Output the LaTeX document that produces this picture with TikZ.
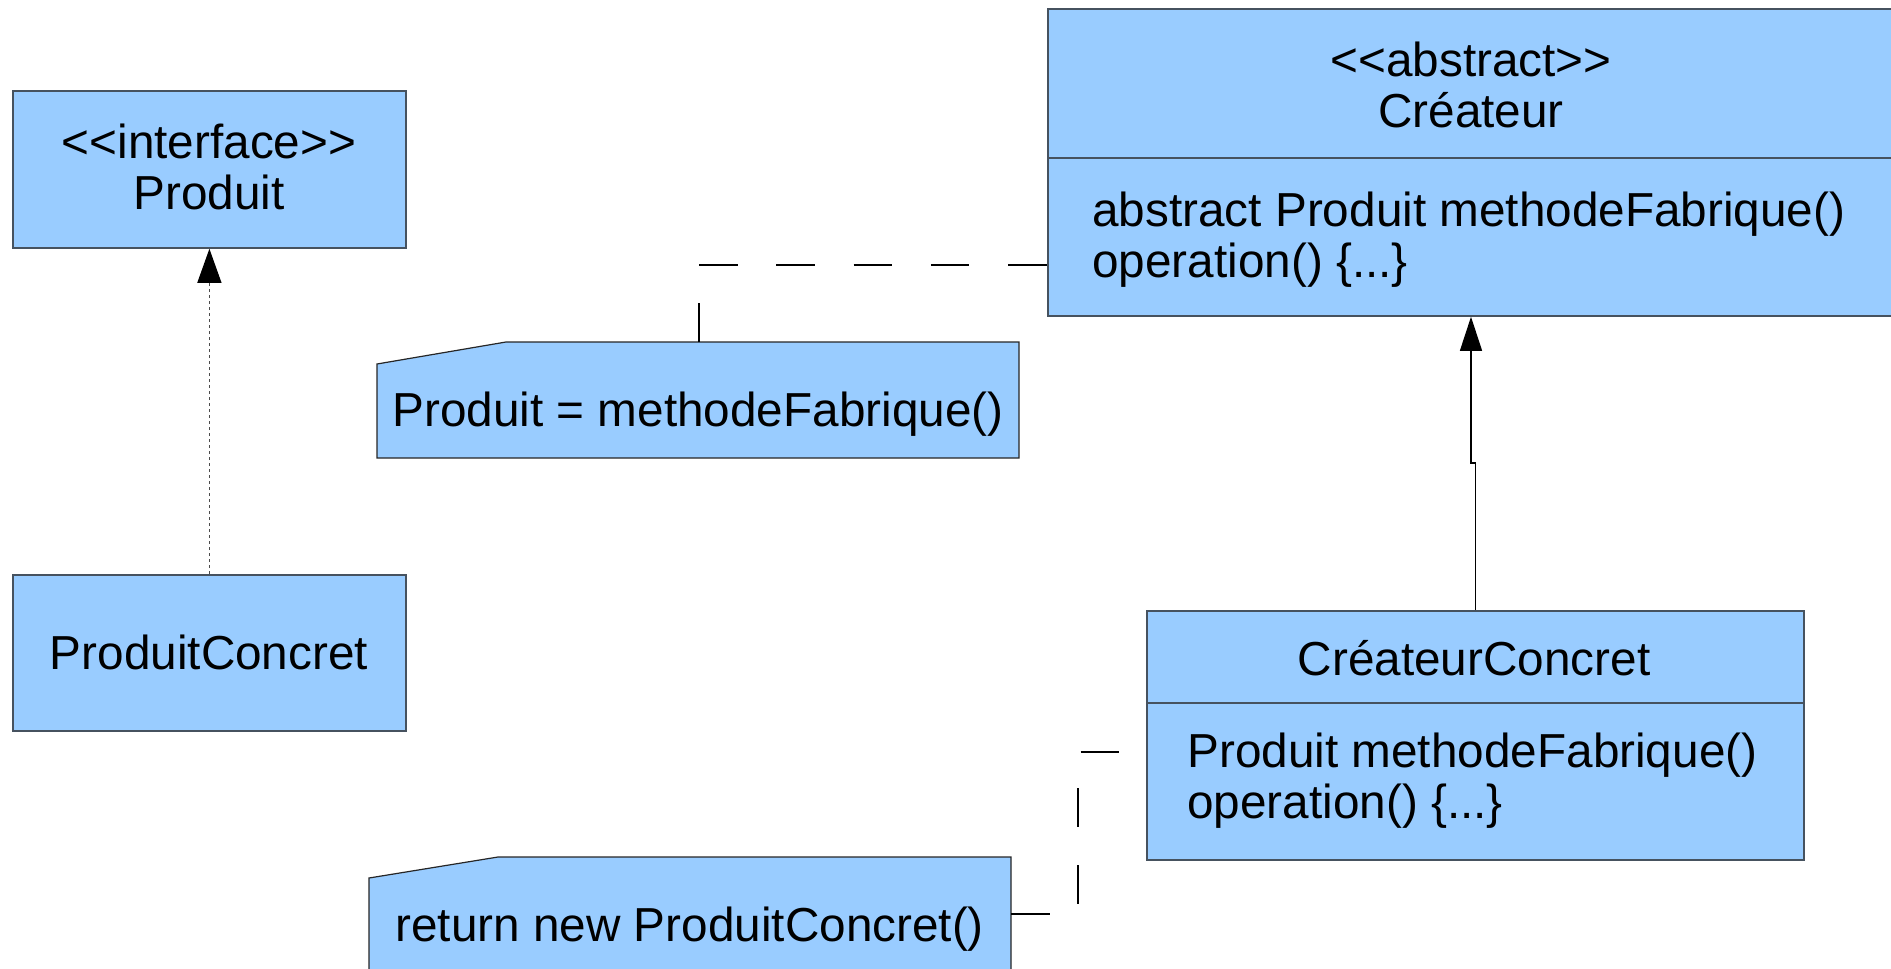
\documentclass[tikz,border=0pt]{standalone}
\usepackage{fontspec}
\setmainfont{Liberation Sans}[Ligatures=TeXOff]
\usetikzlibrary{arrows.meta}
\definecolor{boxfill}{HTML}{99CCFF}
\definecolor{boxline}{HTML}{46525F}
\begin{document}
\begin{tikzpicture}[x=0.5pt,y=-0.5pt,
  cls/.style={draw=boxline,fill=boxfill,line width=0.9pt,inner sep=0pt,anchor=north west},
  divider/.style={draw=boxline,line width=0.9pt},
  txt/.style={inner sep=0pt,font=\fontsize{23.85pt}{25.5pt}\selectfont},
  notebox/.style={draw=black!85,fill=boxfill,line width=0.6pt},
  conn/.style={line width=0.6pt,dash pattern=on 19.3pt off 19.3pt},
  inh/.style={line width=0.6pt,-{Triangle[width=11pt,length=17pt]}},
  real/.style={draw=black!70,line width=0.6pt,dash pattern=on 1.5pt off 1.5pt,
    -{Triangle[width=12pt,length=17pt,color=black]}}]
\useasboundingbox (0,0) rectangle (1891,969);

% classes
\node[cls,minimum width=196.5pt,minimum height=78.5pt] (p) at (12,90) {};
\node[txt,align=center] (pt) at (209,167) {<<interface>>\\Produit};

\node[cls,minimum width=196.5pt,minimum height=78pt] (pc) at (12,574) {};
\node[txt] (pct) at (209,652) {ProduitConcret};

\node[cls,minimum width=424pt,minimum height=153.5pt] (cr) at (1047,8) {};
\draw[divider] (cr.west |- 0,158) -- (cr.east |- 0,158);
\node[txt,align=center] (crt) at (1471,85) {<<abstract>>\\Créateur};
\node[txt,align=left,anchor=west] (crb) at (1092,240) {abstract Produit methodeFabrique()\\operation() \{...\}};

\node[cls,minimum width=328.5pt,minimum height=124.5pt] (cc) at (1146,610) {};
\draw[divider] (cc.west |- 0,703) -- (cc.east |- 0,703);
\node[txt] (cct) at (1474,658) {CréateurConcret};
\node[txt,align=left,anchor=west] (ccb) at (1187,781) {Produit methodeFabrique()\\operation() \{...\}};

% notes
\filldraw[notebox] (377,364) -- (506,342) -- (1019,342) -- (1019,458) -- (377,458) -- cycle;
\node[txt,anchor=west] (n1) at (392,414) {Produit = methodeFabrique()};
\coordinate (n1top) at (699,342);

\filldraw[notebox] (369,878) -- (498,857) -- (1011,857) -- (1011,985) -- (369,985) -- cycle;
\node[txt,anchor=west] (n2) at (395,929) {return new ProduitConcret()};
\coordinate (n2right) at (1011,914);

% connectors
\draw[real] (pc.north) -- (p.south);

\coordinate (j) at (1471,463);
\draw[inh] (cc.north) |- (j) -- (j |- cr.south);

\coordinate (c1) at (1047,265);
\draw[conn] (n1top) |- (c1);

\coordinate (k2) at (1078,752);
\coordinate (c2) at (1146,752);
\draw[conn] (n2right) -| (k2) -- (c2);
\end{tikzpicture}
\end{document}
